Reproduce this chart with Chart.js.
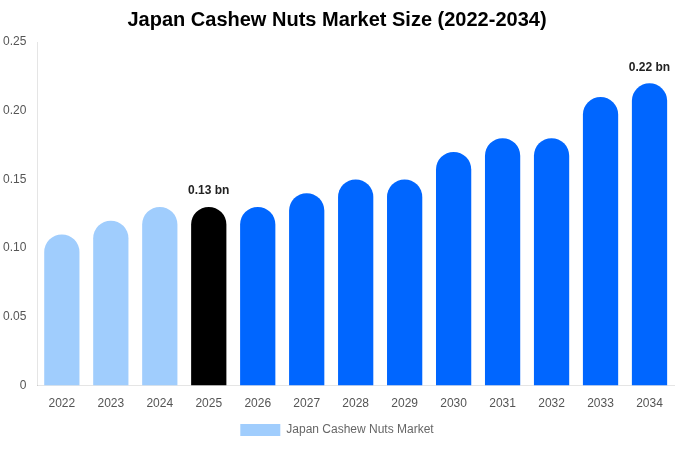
<!DOCTYPE html>
<html>
<head>
<meta charset="utf-8">
<script src="https://cdn.jsdelivr.net/npm/chart.js@4"></script>
<style>
  body { margin: 0; background: #fff; }
  #wrap { width: 680px; height: 450px; }
</style>
</head>
<body>
<div id="wrap"><canvas id="chart"></canvas></div>
<script>
const years = ['2022','2023','2024','2025','2026','2027','2028','2029','2030','2031','2032','2033','2034'];
const marketSize = [0.11, 0.12, 0.13, 0.13, 0.13, 0.14, 0.15, 0.15, 0.17, 0.18, 0.18, 0.21, 0.22];
const barColors = ['#a0cdfd','#a0cdfd','#a0cdfd','#000000','#0066ff','#0066ff','#0066ff','#0066ff','#0066ff','#0066ff','#0066ff','#0066ff','#0066ff'];
const labelled = { 3: '0.13 bn', 12: '0.22 bn' };

// etiquetas sobre algunas barras
const valueLabels = {
    id: 'valueLabels',
    afterDatasetsDraw(chart) {
        const ctx = chart.ctx;
        const meta = chart.getDatasetMeta(0);
        ctx.save();
        ctx.font = 'bold 12px "Liberation Sans", Arial, sans-serif';
        ctx.fillStyle = '#222';
        ctx.textAlign = 'center';
        ctx.textBaseline = 'bottom';
        Object.keys(labelled).forEach(function (i) {
            const bar = meta.data[i];
            ctx.fillText(labelled[i], bar.x, bar.y - 10);
        });
        ctx.restore();
    }
};

new Chart(document.getElementById('chart').getContext('2d'), {
    type: 'bar',
    data: {
        labels: years,
        datasets: [{
            label: 'Japan Cashew Nuts Market',
            data: marketSize,
            backgroundColor: barColors,
            borderRadius: { topLeft: 18, topRight: 18 },
            borderSkipped: 'bottom',
            categoryPercentage: 0.8,
            barPercentage: 0.9
        }]
    },
    options: {
        responsive: true,
        maintainAspectRatio: false,
        animation: false,
        layout: { padding: { left: 0, right: 6, top: 0, bottom: 4 } },
        plugins: {
            title: {
                display: true,
                text: 'Japan Cashew Nuts Market Size (2022-2034)',
                color: '#000',
                font: { size: 20, weight: 'bold', family: '"Liberation Sans", Arial, sans-serif' },
                padding: { top: 8, bottom: 10 }
            },
            legend: {
                position: 'bottom',
                labels: {
                    color: '#666',
                    boxWidth: 40,
                    boxHeight: 12,
                    generateLabels: function () {
                        return [{ text: 'Japan Cashew Nuts Market', fillStyle: '#a0cdfd', strokeStyle: '#a0cdfd', lineWidth: 0, fontColor: '#666' }];
                    },
                    font: { size: 12, family: '"Liberation Sans", Arial, sans-serif' }
                }
            },
            tooltip: { enabled: false }
        },
        scales: {
            x: {
                grid: { display: false },
                ticks: { color: '#555', font: { size: 12, family: '"Liberation Sans", Arial, sans-serif' } }
            },
            y: {
                min: 0,
                max: 0.25,
                grid: { display: false },
                ticks: {
                    stepSize: 0.05,
                    color: '#555',
                    font: { size: 12, family: '"Liberation Sans", Arial, sans-serif' },
                    callback: function (v) { return v === 0 ? '0' : v.toFixed(2); }
                }
            }
        }
    },
    plugins: [valueLabels]
});
</script>
</body>
</html>
